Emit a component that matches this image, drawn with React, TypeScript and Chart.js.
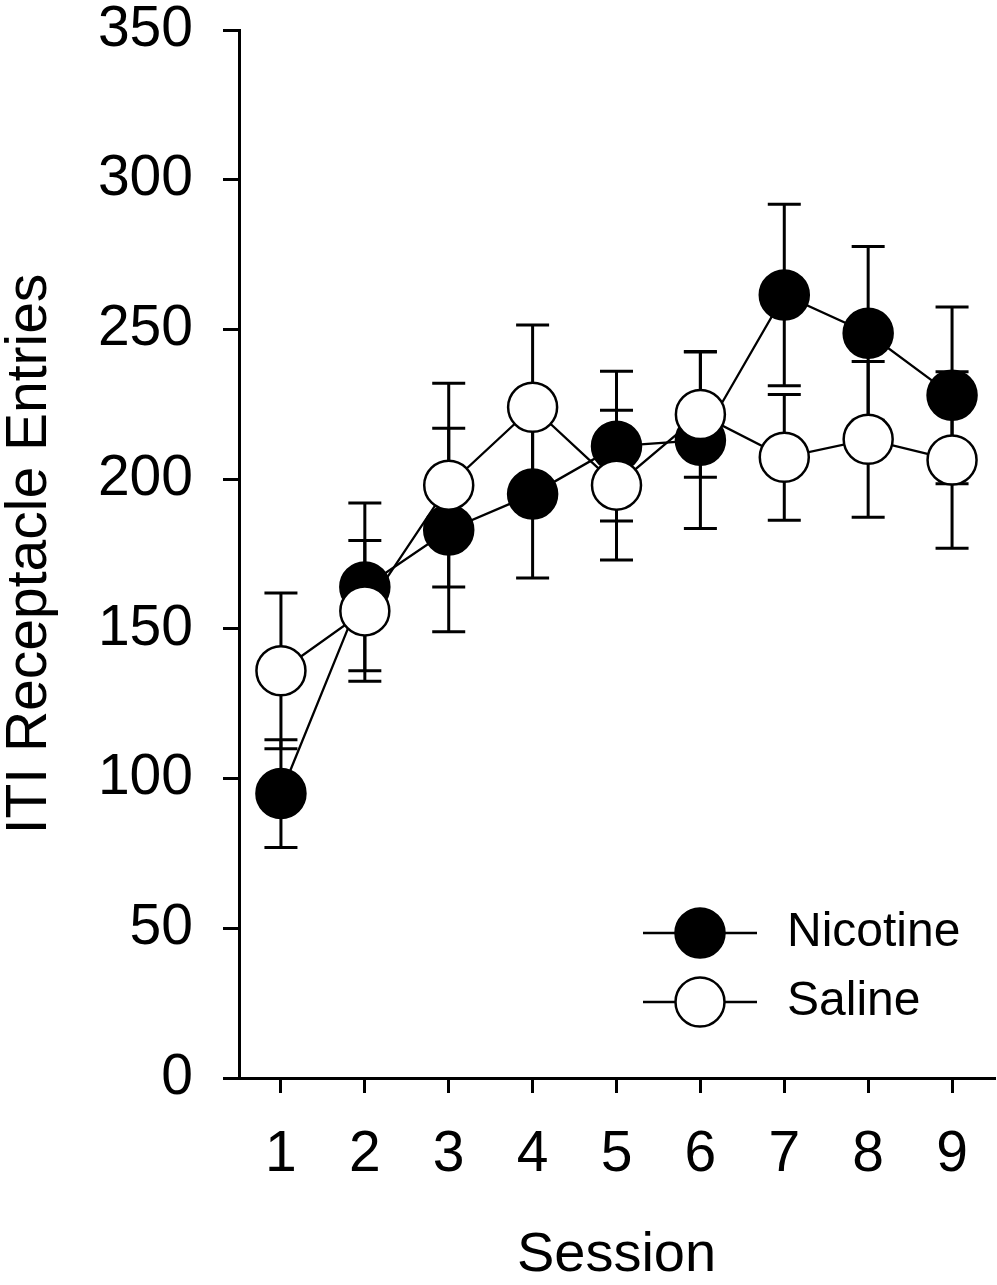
import { useEffect, useRef } from "react"
import Chart from "chart.js/auto"

const sessions = ["1", "2", "3", "4", "5", "6", "7", "8", "9"]
const nicotineMean = [95, 164, 183, 195, 211, 213, 261.5, 248.7, 228]
const nicotineSem = [18, 28, 34, 28, 25, 29.5, 30.3, 29, 29.5]
const salineMean = [136, 156, 198, 224, 198, 221.6, 207.3, 213.3, 206.4]
const salineSem = [26, 23.5, 34, 27.5, 25, 21, 21, 26, 29.5]
const yTicks = [0, 50, 100, 150, 200, 250, 300, 350]

const FONT = "'Liberation Sans', Arial, sans-serif"

// vertical error bars with caps, drawn under the markers
const errorBars = {
  id: "errorBars",
  beforeDatasetsDraw(chart: any, _args: any, opts: any) {
    const { ctx } = chart
    const y = chart.scales.y
    ctx.save()
    ctx.strokeStyle = "#000"
    ctx.lineWidth = 3
    chart.data.datasets.forEach((ds: any, di: number) => {
      const errs: number[] = opts.errors[di]
      const meta = chart.getDatasetMeta(di)
      meta.data.forEach((pt: any, i: number) => {
        const top = y.getPixelForValue(ds.data[i] + errs[i])
        const bot = y.getPixelForValue(ds.data[i] - errs[i])
        ctx.beginPath()
        ctx.moveTo(pt.x, top)
        ctx.lineTo(pt.x, bot)
        ctx.moveTo(pt.x - opts.cap, top)
        ctx.lineTo(pt.x + opts.cap, top)
        ctx.moveTo(pt.x - opts.cap, bot)
        ctx.lineTo(pt.x + opts.cap, bot)
        ctx.stroke()
      })
    })
    ctx.restore()
  },
}

// legend inside the plot: line through the marker, then the label
const insideLegend = {
  id: "insideLegend",
  afterDraw(chart: any, _args: any, opts: any) {
    const { ctx, chartArea } = chart
    ctx.save()
    chart.data.datasets.forEach((ds: any, i: number) => {
      const cx = chartArea.left + opts.x
      const cy = chartArea.top + opts.y + i * opts.gap
      ctx.strokeStyle = "#000"
      ctx.lineWidth = ds.borderWidth
      ctx.beginPath()
      ctx.moveTo(cx - opts.half, cy)
      ctx.lineTo(cx + opts.half, cy)
      ctx.stroke()
      ctx.beginPath()
      ctx.arc(cx, cy, ds.pointRadius, 0, Math.PI * 2)
      ctx.fillStyle = ds.pointBackgroundColor
      ctx.fill()
      ctx.lineWidth = ds.pointBorderWidth
      ctx.stroke()
      ctx.fillStyle = "#000"
      ctx.font = `48px ${FONT}`
      ctx.textBaseline = "middle"
      ctx.textAlign = "left"
      ctx.fillText(ds.label, cx + opts.textGap, cy)
    })
    ctx.restore()
  },
}

const App = () => {
  const chartRef = useRef<HTMLCanvasElement>(null)
  const chartInstance = useRef<Chart | null>(null)

  useEffect(() => {
    if (!chartRef.current) return
    if (chartInstance.current) chartInstance.current.destroy()

    chartInstance.current = new Chart(chartRef.current, {
      type: "line",
      data: {
        labels: sessions,
        datasets: [
          {
            label: "Nicotine",
            data: nicotineMean,
            borderColor: "#000",
            borderWidth: 2.3,
            pointRadius: 24.5,
            pointBorderWidth: 2.5,
            pointBackgroundColor: "#000",
            pointBorderColor: "#000",
            tension: 0,
            order: 2,
          },
          {
            label: "Saline",
            data: salineMean,
            borderColor: "#000",
            borderWidth: 2.3,
            pointRadius: 24.5,
            pointBorderWidth: 2.5,
            pointBackgroundColor: "#fff",
            pointBorderColor: "#000",
            tension: 0,
            order: 1,
          },
        ],
      },
      options: {
        responsive: false,
        animation: false,
        events: [],
        layout: { autoPadding: false, padding: { top: 30, right: 3, left: 0, bottom: 0 } },
        plugins: {
          legend: { display: false },
          tooltip: { enabled: false },
          errorBars: { errors: [nicotineSem, salineSem], cap: 16.5 },
          insideLegend: { x: 461, y: 903, gap: 69, half: 57, textGap: 87 },
        } as any,
        scales: {
          x: {
            type: "category",
            offset: true,
            grid: { drawOnChartArea: false, offset: false, tickLength: 15, lineWidth: 3, color: "#000" },
            border: { color: "#000", width: 3 },
            ticks: {
              color: "#000",
              padding: 28,
              maxRotation: 0,
              autoSkip: false,
              font: { family: FONT, size: 57, lineHeight: 1.2 },
            },
            title: {
              display: true,
              text: "Session",
              color: "#000",
              padding: 0,
              font: { family: FONT, size: 56, lineHeight: 1.05 },
            },
            afterFit: (s: any) => {
              s.height = 207
              s.paddingLeft = 0
              s.paddingRight = 0
            },
          },
          y: {
            min: 0,
            max: 350,
            afterBuildTicks: (s: any) => {
              s.ticks = yTicks.map((v) => ({ value: v }))
            },
            grid: { drawOnChartArea: false, tickLength: 16, lineWidth: 3, color: "#000" },
            border: { color: "#000", width: 3 },
            ticks: {
              color: "#000",
              padding: 30,
              font: { family: FONT, size: 57, lineHeight: 1 },
            },
            title: {
              display: true,
              text: "ITI Receptacle Entries",
              color: "#000",
              padding: 0,
              font: { family: FONT, size: 57, lineHeight: 1.05 },
            },
            afterFit: (s: any) => {
              s.width = 239
              s.paddingTop = 0
              s.paddingBottom = 0
            },
          },
        },
      },
      plugins: [errorBars, insideLegend],
    })

    return () => {
      if (chartInstance.current) {
        chartInstance.current.destroy()
        chartInstance.current = null
      }
    }
  }, [])

  return (
    <div style={{ position: "absolute", left: 0, top: 0, width: 997, height: 1285, background: "#fff" }}>
      <canvas ref={chartRef} width={997} height={1285} style={{ display: "block" }} />
    </div>
  )
}

export default App
